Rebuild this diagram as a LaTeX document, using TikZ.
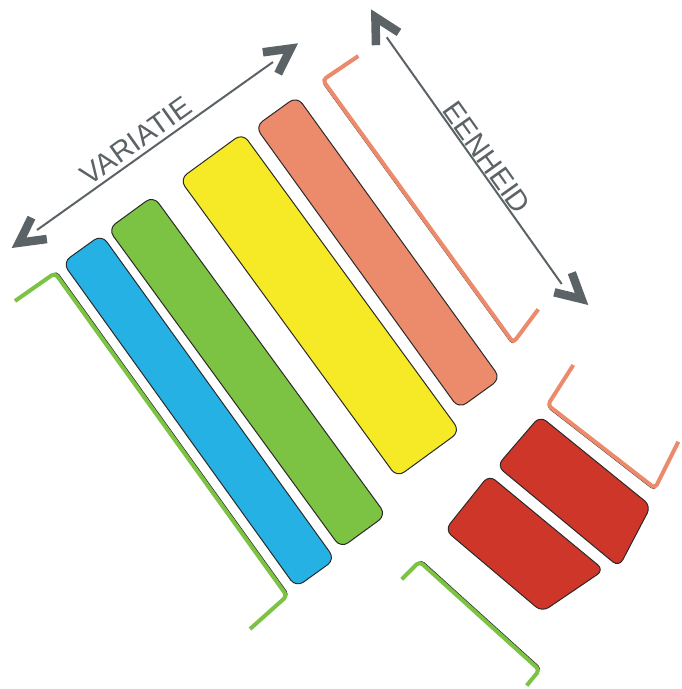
\documentclass[tikz,border=0pt]{standalone}
\usepackage{fontspec}
\setmainfont{Liberation Sans}
\definecolor{barblue}{HTML}{26B1E5}
\definecolor{bargreen}{HTML}{7CC243}
\definecolor{baryellow}{HTML}{F6E925}
\definecolor{barsalmon}{HTML}{EC8A6C}
\definecolor{barred}{HTML}{CD3629}
\definecolor{arrowgray}{HTML}{5C6367}
\definecolor{edgedark}{HTML}{2A2A2A}
\begin{document}
\begin{tikzpicture}[x=1pt,y=-1pt,
  bar/.style={draw=edgedark, line width=1pt, rounded corners=9pt, inner sep=0pt, outer sep=0pt},
  redshape/.style={draw=edgedark, line width=1pt, fill=barred, rounded corners=8pt},
  shadowline/.style={draw=edgedark, line width=1.4pt, rounded corners=4pt},
  brackline/.style={line width=4pt, rounded corners=4pt},
  txt/.style={font=\fontsize{29}{29}\selectfont, text=arrowgray, inner sep=0pt},
  axisline/.style={draw=arrowgray, line width=2pt},
  chev/.pic={\fill[arrowgray] (0,0) -- (-31.8,16.9) -- (-35.8,9.4) -- (-18.1,0) -- (-35.8,-9.4) -- (-31.8,-16.9) -- cycle;}
]
\useasboundingbox (0,0) rectangle (681,689);

% bars
\node[bar, fill=barblue, minimum width=400pt, minimum height=48pt, rotate=-54.3] (blue) at (198.8,411) {};
\node[bar, fill=bargreen, minimum width=395pt, minimum height=56pt, rotate=-53.9] (green) at (247.1,372) {};
\node[bar, fill=baryellow, minimum width=369pt, minimum height=78pt, rotate=-53.9] (yellow) at (319.8,305.3) {};
\node[bar, fill=barsalmon, minimum width=348pt, minimum height=51.5pt, rotate=-54.2] (salmon) at (377.9,252.5) {};

% red shapes
\draw[redshape] (497,466) -- (540,416) -- (651,506) -- (619,567) -- cycle;
\draw[redshape] (445,530) -- (489,475) -- (604,570) -- (542,612) -- cycle;

% brackets
\draw[shadowline, shift={(1.4,-1.4)}] (15,301) -- (55,273) -- (287,596) -- (250,629);
\draw[brackline, bargreen] (15,301) -- (55,273) -- (287,596) -- (250,629);
\draw[shadowline, shift={(1.4,-1.4)}] (401.7,579.3) -- (419.5,561.5) -- (539.5,670) -- (526.7,685.5);
\draw[brackline, bargreen] (401.7,579.3) -- (419.5,561.5) -- (539.5,670) -- (526.7,685.5);
\draw[shadowline, shift={(-0.6,1.6)}] (358.3,56) -- (322.7,80) -- (513.3,342.7) -- (538.3,309.3);
\draw[brackline, barsalmon] (358.3,56) -- (322.7,80) -- (513.3,342.7) -- (538.3,309.3);
\draw[shadowline, shift={(-0.6,1.6)}] (573.3,365) -- (547.7,405) -- (655,488.3) -- (678.3,441.7);
\draw[brackline, barsalmon] (573.3,365) -- (547.7,405) -- (655,488.3) -- (678.3,441.7);

% VARIATIE arrow
\coordinate (vl) at (37,230);
\coordinate (vr) at (273,62);
\draw[axisline] (vl) -- (vr);
\pic[rotate=215.6] at (11.7,248) {chev};
\pic[rotate=35.6] at (298,43.3) {chev};
\node[txt, rotate=35.6] (variatie) at (136.1,140.8) {VARIATIE};

% EENHEID arrow
\coordinate (et) at (386.7,37.3);
\coordinate (eb) at (561.7,284);
\draw[axisline] (et) -- (eb);
\pic[rotate=119.2] at (371,9.3) {chev};
\pic[rotate=-41.7] at (588.3,305) {chev};
\node[txt, rotate=-54.6] (eenheid) at (486.8,157.6) {EENHEID};
\end{tikzpicture}
\end{document}
